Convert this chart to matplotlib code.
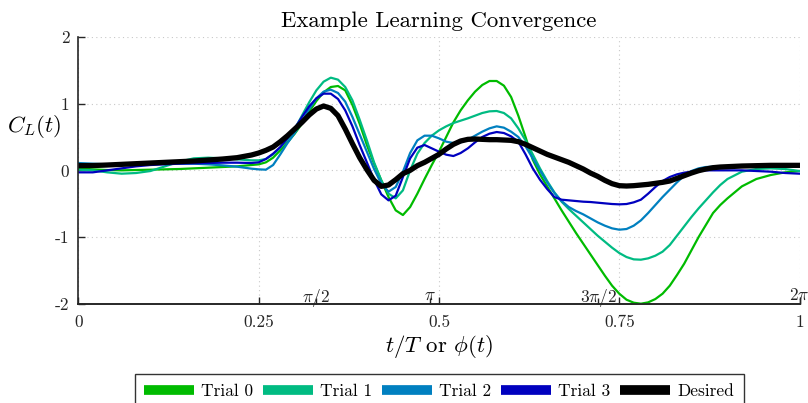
import numpy as np
import matplotlib.pyplot as plt

plt.rcParams['font.family'] = 'cmr10'
plt.rcParams['mathtext.fontset'] = 'cm'
plt.rcParams['axes.unicode_minus'] = False

# sample times (fraction of the period)
t = [0.00, 0.02, 0.04, 0.06, 0.08, 0.10, 0.12, 0.14, 0.16, 0.18, 0.20, 0.22, 0.24,
     0.25, 0.26, 0.27, 0.28, 0.29, 0.30, 0.31, 0.32, 0.33, 0.34, 0.35, 0.36, 0.37,
     0.38, 0.39, 0.40, 0.41, 0.42, 0.43, 0.44, 0.45, 0.46, 0.47, 0.48, 0.49, 0.50,
     0.51, 0.52, 0.53, 0.54, 0.55, 0.56, 0.57, 0.58, 0.59, 0.60, 0.61, 0.62, 0.63,
     0.64, 0.65, 0.66, 0.67, 0.68, 0.69, 0.70, 0.71, 0.72, 0.73, 0.74, 0.75, 0.76,
     0.77, 0.78, 0.79, 0.80, 0.81, 0.82, 0.83, 0.84, 0.85, 0.86, 0.87, 0.88, 0.89,
     0.90, 0.92, 0.94, 0.96, 0.98, 1.00]

trial0 = [0.03, 0.015, 0.005, 0.0, 0.005, 0.01, 0.015, 0.02, 0.03, 0.04, 0.05, 0.06, 0.08,
          0.09, 0.12, 0.19, 0.30, 0.42, 0.55, 0.70, 0.88, 1.04, 1.17, 1.25, 1.265, 1.20,
          0.98, 0.70, 0.38, 0.10, -0.15, -0.40, -0.60, -0.67, -0.55, -0.35, -0.13, 0.08, 0.28,
          0.50, 0.72, 0.90, 1.05, 1.18, 1.28, 1.34, 1.34, 1.27, 1.10, 0.82, 0.50, 0.16,
          -0.06, -0.24, -0.42, -0.60, -0.77, -0.94, -1.10, -1.26, -1.42, -1.58, -1.73, -1.85, -1.94,
          -1.985, -2.0, -1.98, -1.93, -1.85, -1.73, -1.57, -1.40, -1.20, -1.00, -0.82, -0.64, -0.52,
          -0.42, -0.24, -0.13, -0.07, -0.03, -0.01]

trial1 = [0.01, 0.0, -0.03, -0.05, -0.04, -0.01, 0.06, 0.13, 0.18, 0.19, 0.18, 0.165, 0.15,
          0.15, 0.17, 0.24, 0.34, 0.47, 0.62, 0.82, 1.02, 1.20, 1.33, 1.39, 1.36, 1.25,
          1.05, 0.76, 0.45, 0.12, -0.15, -0.35, -0.42, -0.30, 0.0, 0.25, 0.41, 0.52, 0.60,
          0.66, 0.71, 0.745, 0.78, 0.82, 0.86, 0.885, 0.89, 0.86, 0.78, 0.63, 0.45, 0.24,
          0.03, -0.16, -0.33, -0.47, -0.58, -0.68, -0.78, -0.88, -0.98, -1.07, -1.16, -1.24, -1.30,
          -1.335, -1.34, -1.32, -1.28, -1.22, -1.12, -0.98, -0.84, -0.70, -0.57, -0.45, -0.33, -0.22,
          -0.13, -0.02, 0.02, 0.03, 0.02, -0.01]

trial2 = [0.11, 0.10, 0.09, 0.08, 0.09, 0.10, 0.10, 0.10, 0.10, 0.09, 0.075, 0.055, 0.025,
          0.015, 0.01, 0.08, 0.24, 0.41, 0.56, 0.73, 0.92, 1.08, 1.18, 1.21, 1.16, 1.03,
          0.80, 0.54, 0.28, 0.02, -0.20, -0.32, -0.25, -0.02, 0.26, 0.45, 0.52, 0.52, 0.48,
          0.43, 0.41, 0.42, 0.46, 0.52, 0.58, 0.63, 0.66, 0.64, 0.58, 0.50, 0.36, 0.18,
          0.0, -0.18, -0.34, -0.46, -0.55, -0.61, -0.66, -0.72, -0.78, -0.83, -0.87, -0.89, -0.88,
          -0.83, -0.75, -0.64, -0.52, -0.40, -0.29, -0.18, -0.08, -0.01, 0.03, 0.05, 0.055, 0.06,
          0.06, 0.065, 0.065, 0.07, 0.07, 0.07]

trial3 = [-0.03, -0.03, 0.0, 0.03, 0.06, 0.08, 0.09, 0.10, 0.105, 0.11, 0.115, 0.115, 0.11,
          0.12, 0.17, 0.25, 0.35, 0.48, 0.63, 0.80, 0.96, 1.08, 1.15, 1.15, 1.07, 0.90,
          0.66, 0.38, 0.12, -0.14, -0.36, -0.45, -0.38, -0.10, 0.18, 0.34, 0.38, 0.33, 0.28,
          0.235, 0.215, 0.26, 0.33, 0.42, 0.50, 0.55, 0.575, 0.56, 0.51, 0.43, 0.24, 0.03,
          -0.14, -0.28, -0.40, -0.44, -0.45, -0.46, -0.47, -0.475, -0.485, -0.495, -0.505, -0.51, -0.505,
          -0.48, -0.44, -0.35, -0.25, -0.16, -0.10, -0.06, -0.035, -0.02, -0.01, 0.0, 0.0, 0.0,
          0.0, 0.0, -0.01, -0.02, -0.04, -0.05]

desired = [0.07, 0.072, 0.08, 0.09, 0.10, 0.11, 0.12, 0.13, 0.14, 0.155, 0.17, 0.19, 0.23,
           0.26, 0.30, 0.35, 0.43, 0.52, 0.62, 0.72, 0.83, 0.92, 0.965, 0.93, 0.82, 0.62,
           0.40, 0.19, 0.01, -0.15, -0.24, -0.22, -0.14, -0.05, 0.0, 0.07, 0.12, 0.18, 0.24,
           0.32, 0.39, 0.44, 0.465, 0.47, 0.465, 0.46, 0.46, 0.455, 0.45, 0.43, 0.39, 0.34,
           0.29, 0.24, 0.20, 0.16, 0.12, 0.07, 0.02, -0.04, -0.09, -0.15, -0.20, -0.23, -0.235,
           -0.23, -0.22, -0.21, -0.195, -0.18, -0.16, -0.12, -0.08, -0.04, -0.005, 0.02, 0.04, 0.05,
           0.055, 0.065, 0.07, 0.075, 0.075, 0.075]

trial_labels = ['Trial 0', 'Trial 1', 'Trial 2', 'Trial 3']
trial_colors = ['#00bb00', '#00bb82', '#0080c0', '#0000bf']

x_ticks = [0, 0.25, 0.5, 0.75, 1]
x_tick_labels = ['0', '0.25', '0.5', '0.75', '1']
y_ticks = [-2, -1, 0, 1, 2]
y_tick_labels = ['-2', '-1', '0', '1', '2']

# stroke phase marks along the time axis
phase_ticks = [0.330, 0.487, 0.721, 1.0]
phase_labels = [r'$\pi/2$', r'$\pi$', r'$3\pi/2$', r'$2\pi$']

axis_color = '#262626'

fig = plt.figure(figsize=(8.08, 4.03), dpi=100)
ax = fig.add_axes([0.097, 0.2464, 0.8926, 0.6618])

for vals, lab, col in zip([trial0, trial1, trial2, trial3], trial_labels, trial_colors):
    ax.plot(t, vals, color=col, lw=1.6, label=lab)
ax.plot(t, desired, color='black', lw=3.8, label='Desired')

ax.set_xlim(0, 1)
ax.set_ylim(-2, 2)
ax.set_xticks(x_ticks, labels=x_tick_labels)
ax.set_yticks(y_ticks, labels=y_tick_labels)
ax.grid(True, linestyle=(0, (1, 3)), color='#c8c8c8', lw=0.8)

for side in ['top', 'right']:
    ax.spines[side].set_visible(False)
for side in ['left', 'bottom']:
    ax.spines[side].set_color(axis_color)
    ax.spines[side].set_linewidth(1.2)

ax.tick_params(direction='in', length=5, width=1, colors=axis_color, labelsize=12.5)
ax.tick_params(axis='y', pad=6.5)
ax.tick_params(axis='x', pad=8)

sec = ax.secondary_xaxis('bottom')
sec.set_xticks(phase_ticks, labels=phase_labels)
sec.tick_params(direction='in', length=4, width=1, colors=axis_color, labelsize=12.5, pad=-12)
sec.spines['bottom'].set_color(axis_color)
sec.spines['bottom'].set_linewidth(1.2)

ax.set_title('Example Learning Convergence', fontsize=16.4, pad=7)
ax.set_xlabel(r'$t/T$ or $\phi(t)$', fontsize=16.5, va='center')
ax.xaxis.set_label_coords(0.5, -0.159)
ax.set_ylabel(r'$C_L(t)$', fontsize=16.5, rotation=0, ha='center', va='center')
ax.yaxis.set_label_coords(-0.061, 0.663)

leg = fig.legend(loc='upper center', bbox_to_anchor=(0.5435, 1 - 374 / 403), ncol=5,
                 fontsize=12.5, handlelength=2.9, handletextpad=0.4, columnspacing=0.55,
                 fancybox=False, edgecolor='#333333', framealpha=1, borderpad=0.55,
                 borderaxespad=0)
leg.get_frame().set_linewidth(1.0)
for line in leg.get_lines():
    line.set_linewidth(7)
    line.set_solid_capstyle('butt')

fig.savefig('out.png', dpi=100)
